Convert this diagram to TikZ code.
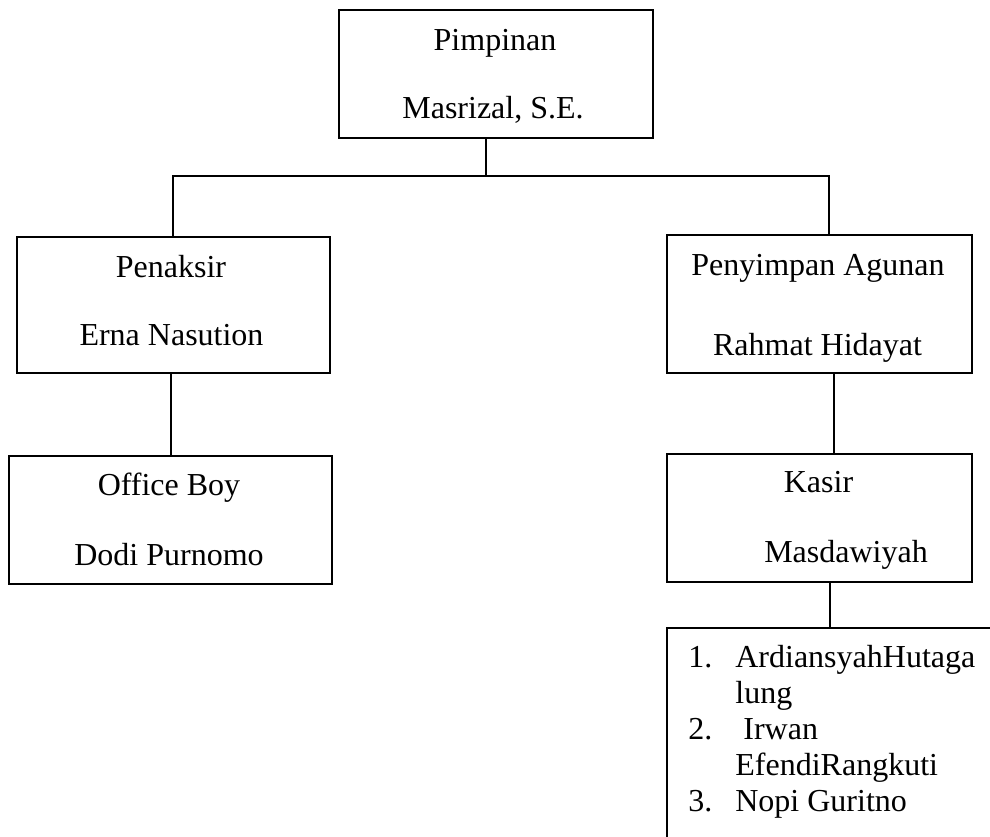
\documentclass[tikz,border=0pt]{standalone}
\usepackage{fontspec}
\setmainfont{Liberation Serif}
\usetikzlibrary{positioning}
\begin{document}
\begin{tikzpicture}[x=0.5pt,y=-0.5pt,
    box/.style={draw, line width=0.9pt, inner sep=0pt, anchor=north west},
    txt/.style={anchor=base, inner sep=0pt, font=\fontsize{16}{18}\selectfont},
    link/.style={line width=0.9pt}]
    \useasboundingbox (0,0) rectangle (990,836);
    \clip (0,0) rectangle (990,836);

    % kotak jabatan
    \node[box, minimum width=157pt, minimum height=64pt] (pimpinan) at (338,9) {};
    \node[box, minimum width=156.5pt, minimum height=68pt] (penaksir) at (16,236) {};
    \node[box, minimum width=152.5pt, minimum height=69pt] (penyimpan) at (666,234) {};
    \node[box, minimum width=161.5pt, minimum height=64pt] (officeboy) at (8,455) {};
    \node[box, minimum width=152.5pt, minimum height=64pt] (kasir) at (666,453) {};
    \node[box, minimum width=180pt, minimum height=130pt] (staf) at (666,627) {};

    % teks
    \node[txt] (pimpinan-t1) at (495,50) {Pimpinan};
    \node[txt] (pimpinan-t2) at (493,118) {Masrizal, S.E.};
    \node[txt] (penaksir-t1) at (171,277) {Penaksir};
    \node[txt] (penaksir-t2) at (171.5,345) {Erna Nasution};
    \node[txt] (penyimpan-t1) at (818,275) {Penyimpan Agunan};
    \node[txt] (penyimpan-t2) at (817.5,355) {Rahmat Hidayat};
    \node[txt] (officeboy-t1) at (169,495) {Office Boy};
    \node[txt] (officeboy-t2) at (169,565) {Dodi Purnomo};
    \node[txt] (kasir-t1) at (818.5,492) {Kasir};
    \node[txt] (kasir-t2) at (846,562) {Masdawiyah};
    \node[txt, anchor=base west] (staf-t) at (688,667) {\begin{tabular}[t]{@{}p{23.5pt}@{}l@{}}
        1. & ArdiansyahHutaga\\
           & lung\\
        2. & \ Irwan\\
           & EfendiRangkuti\\
        3. & Nopi Guritno
    \end{tabular}};

    % garis
    \coordinate (bus) at (486,176);
    \coordinate (busL) at (173,176);
    \coordinate (busR) at (829,176);
    \draw[link] (bus |- pimpinan.south) -- (bus);
    \draw[link] (busL |- penaksir.north) -- (busL) -- (busR) -- (busR |- penyimpan.north);
    \draw[link] ([xshift=0.25pt]officeboy.north |- penaksir.south) -- ([xshift=0.25pt]officeboy.north);
    \draw[link] ([xshift=7.25pt]penyimpan.south) -- ([xshift=7.25pt]penyimpan.south |- kasir.north);
    \draw[link] ([xshift=5.25pt]kasir.south) -- ([xshift=5.25pt]kasir.south |- staf.north);
\end{tikzpicture}
\end{document}
